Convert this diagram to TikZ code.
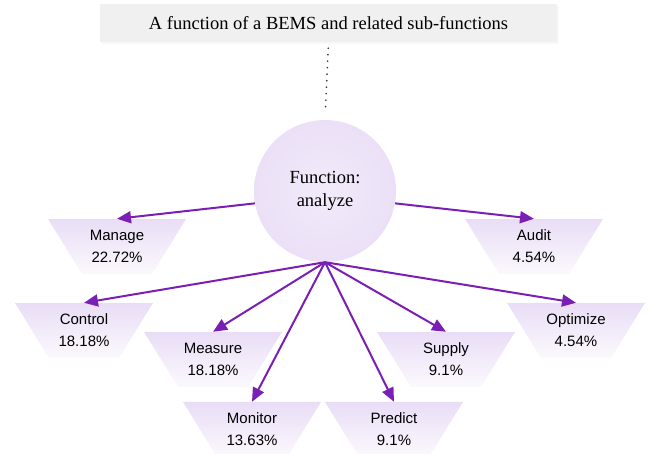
\documentclass[tikz,border=0pt]{standalone}
\usepackage{fontspec}
\setmainfont{Liberation Serif}
\newfontfamily\labelfont{Liberation Sans}
\usetikzlibrary{arrows.meta,shadows}

\definecolor{linkpurple}{RGB}{122,31,180}
\definecolor{lavtop}{RGB}{233,221,246}
\definecolor{lavbottom}{RGB}{251,249,253}
\definecolor{circin}{RGB}{242,234,250}
\definecolor{circout}{RGB}{235,224,247}
\definecolor{titlegray}{RGB}{240,240,240}
\definecolor{dotgray}{RGB}{45,45,45}

\begin{document}
\begin{tikzpicture}[x=1pt,y=-1pt,
  subfn/.style={minimum width=138pt, minimum height=55pt, inner sep=0pt,
    align=center, font=\labelfont\fontsize{15}{22}\selectfont,
    path picture={\shade[top color=lavtop, bottom color=lavbottom]
      (path picture bounding box.north west) --
      (path picture bounding box.north east) --
      ([xshift=-34pt]path picture bounding box.south east) --
      ([xshift=34pt]path picture bounding box.south west) -- cycle;}},
  link/.style={draw=linkpurple, line width=2pt,
    -{Triangle[length=14pt,width=12pt]}},
  dotline/.style={draw=dotgray, line width=1.8pt, line cap=round,
    dash pattern=on 0pt off 6.5pt},
]
\useasboundingbox (0,0) rectangle (651,454);

% heading box
\node[fill=titlegray, minimum width=457pt, minimum height=38pt, inner sep=0pt,
  font=\fontsize{18.5}{22}\selectfont,
  drop shadow={opacity=0.06, shadow xshift=2pt, shadow yshift=-2pt}]
  (title) at (328.5,23) {A function of a BEMS and related sub-functions};

% central function
\node[circle, minimum size=142pt, inner sep=0pt, shading=radial,
  inner color=circin, outer color=circout, align=center,
  font=\fontsize{18.5}{23}\selectfont]
  (fn) at (325,191) {Function:\\analyze};

\draw[dotline, shorten <=6pt, shorten >=7pt] (title.south) -- (fn.north);

% sub-functions
\node[subfn] (manage)   at (117,246.5) {Manage\\22.72\%};
\node[subfn] (audit)    at (534,246.5) {Audit\\4.54\%};
\node[subfn] (control)  at (84,330.5)  {Control\\18.18\%};
\node[subfn] (measure)  at (213,359.5) {Measure\\18.18\%};
\node[subfn] (optimize) at (576,330.5) {Optimize\\4.54\%};
\node[subfn] (supply)   at (446,359.5) {Supply\\9.1\%};
\node[subfn] (monitor)  at (252,429.5) {Monitor\\13.63\%};
\node[subfn] (predict)  at (394,429.5) {Predict\\9.1\%};

% connectors
\draw[link] (fn.190) -- (manage.north);
\draw[link] (fn.350) -- (audit.north);
\draw[link] (fn.south) -- (control.north);
\draw[link] (fn.south) -- (measure.north);
\draw[link] (fn.south) -- (monitor.north);
\draw[link] (fn.south) -- (predict.north);
\draw[link] (fn.south) -- (supply.north);
\draw[link] (fn.south) -- (optimize.north);
\end{tikzpicture}
\end{document}
